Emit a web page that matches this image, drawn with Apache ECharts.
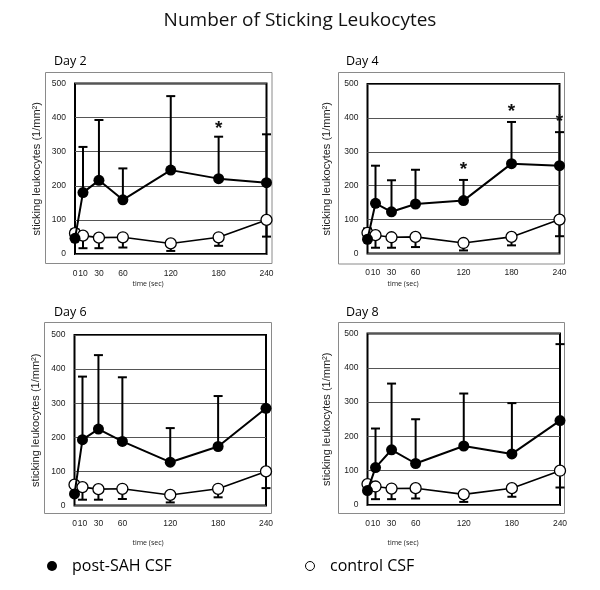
<!DOCTYPE html>
<html>
<head>
<meta charset="utf-8">
<script src="https://cdn.jsdelivr.net/npm/echarts@6/dist/echarts.min.js"></script>
<style>html,body{margin:0;padding:0;background:#fff}#c{width:600px;height:590px}</style>
</head>
<body>
<div id="c"></div>
<script>
// ---- data ----
const times = [0, 10, 30, 60, 120, 180, 240];
const xTickLabels = [0, 10, 30, 60, 120, 180, 240];
const yTicks = [0, 100, 200, 300, 400, 500];
const controlMean = [61, 54, 48, 49, 31, 49, 100];
const controlLower = [null, 17, 17, 19, 9, 24, 51];
const day2Post = [46, 180, 216, 159, 246, 221, 209];
const day2Upper = [72, 314, 393, 251, 463, 344, 351];
const day2Stars = [[180, 383]];
const day4Post = [42, 148, 123, 146, 156, 265, 259];
const day4Upper = [74, 259, 216, 247, 217, 388, 358];
const day4Stars = [[120, 262], [180, 433], [240, 404]];
const day6Post = [34, 193, 224, 188, 127, 173, 285];
const day6Upper = [null, 378, 441, 376, 227, 321, 515];
const day6Stars = [];
const day8Post = [42, 109, 161, 121, 172, 149, 246];
const day8Upper = [null, 223, 354, 250, 325, 297, 469];
const day8Stars = [];
const dayNames = ['Day 2', 'Day 4', 'Day 6', 'Day 8'];
const postName = 'post-SAH CSF';
const controlName = 'control CSF';

// ---- layout ----
const grids = [
  {left: 75, top: 83.5, width: 191.5, height: 170.5},
  {left: 367.5, top: 84, width: 192, height: 169.5},
  {left: 74.5, top: 335, width: 191.5, height: 170.5},
  {left: 367.5, top: 333.5, width: 192.5, height: 171.5}
];
const boxes = [
  {x: 45.5, y: 72.5, w: 226.5, h: 191},
  {x: 338.5, y: 72.5, w: 226, h: 191.5},
  {x: 44.5, y: 322.5, w: 227, h: 191},
  {x: 338.5, y: 322.5, w: 226, h: 191}
];
const dayLabelPos = [[54, 61], [346, 61], [54, 312], [346, 312]];
const timeLabelPos = [[148, 284], [403, 284], [148, 543], [403, 543]];
const posts = [day2Post, day4Post, day6Post, day8Post];
const uppers = [day2Upper, day4Upper, day6Upper, day8Upper];
const stars = [day2Stars, day4Stars, day6Stars, day8Stars];

const zip = (a) => a.map((v, i) => [times[i], v]);
function errData(mean, bound) {
  const out = [];
  times.forEach((t, i) => { if (bound[i] != null) out.push([t, mean[i], bound[i]]); });
  return out;
}
function errRender(params, api) {
  const x = api.value(0), v = api.value(1), e = api.value(2);
  const p0 = api.coord([x, v]);
  const p1 = api.coord([x, e]);
  const cs = params.coordSys;
  let y1 = p1[1], cap = true;
  if (y1 < cs.y) { y1 = cs.y; cap = false; }
  const st = {stroke: '#000', lineWidth: 2};
  const children = [{type: 'line', shape: {x1: p0[0], y1: p0[1], x2: p0[0], y2: y1}, style: st}];
  if (cap) children.push({type: 'line', shape: {x1: p0[0] - 4.5, y1: y1, x2: p0[0] + 4.5, y2: y1}, style: st});
  return {type: 'group', children};
}
function starRender(params, api) {
  const p = api.coord([api.value(0), api.value(1)]);
  return {type: 'text', x: p[0], y: p[1] + 5,
    style: {text: '*', fill: '#111', font: 'bold 19px "Liberation Sans"', align: 'center', verticalAlign: 'middle'}};
}

const option = {
  animation: false,
  backgroundColor: '#fff',
  title: {text: 'Number of Sticking Leukocytes', left: 'center', top: 6,
    textStyle: {fontFamily: 'Open Sans', fontSize: 19, fontWeight: 'normal', color: '#111'}},
  legend: [
    {left: 47, top: 558, padding: 0, itemWidth: 30, itemHeight: 10, selectedMode: false,
      data: [{name: postName, icon: 'circle', itemStyle: {color: '#000', borderWidth: 0}}],
      textStyle: {fontFamily: 'Open Sans', fontSize: 16, color: '#000'}},
    {left: 305, top: 558, padding: 0, itemWidth: 30, itemHeight: 9, selectedMode: false,
      data: [{name: controlName, icon: 'circle', itemStyle: {color: '#fff', borderColor: '#000', borderWidth: 1}}],
      textStyle: {fontFamily: 'Open Sans', fontSize: 16, color: '#000'}}
  ],
  grid: grids.map(g => Object.assign({show: true, borderColor: '#000', borderWidth: 2, backgroundColor: 'transparent'}, g)),
  xAxis: grids.map((g, i) => ({
    type: 'value', gridIndex: i, min: 0, max: 240,
    axisLine: {show: false}, axisTick: {show: false}, splitLine: {show: false},
    axisLabel: {customValues: xTickLabels, margin: i < 2 ? 15 : 14, fontFamily: 'Liberation Sans', fontSize: 8.5, color: '#222'}
  })),
  yAxis: grids.map((g, i) => ({
    type: 'value', gridIndex: i, min: 0, max: 500, interval: 100,
    name: 'sticking leukocytes (1/mm²)', nameLocation: 'middle', nameGap: i % 2 ? 35 : 33,
    nameTextStyle: {fontFamily: 'Liberation Sans', fontSize: 11, color: '#222'},
    axisLine: {show: false}, axisTick: {show: false},
    splitLine: {show: true, lineStyle: {color: '#555', width: 1}},
    axisLabel: {margin: 9, fontFamily: 'Liberation Sans', fontSize: 8.5, color: '#222',
      customValues: yTicks}
  })),
  graphic: [].concat(
    boxes.map(b => ({type: 'rect', shape: {x: b.x, y: b.y, width: b.w, height: b.h}, z: -10, silent: true,
      style: {fill: 'none', stroke: '#8a8a8a', lineWidth: 1}})),
    dayNames.map((d, i) => ({type: 'text', x: dayLabelPos[i][0], y: dayLabelPos[i][1],
      style: {text: d, font: '12.5px "Open Sans"', fill: '#000', verticalAlign: 'middle'}})),
    timeLabelPos.map(p => ({type: 'text', x: p[0], y: p[1],
      style: {text: 'time (sec)', font: '7px "Open Sans"', fill: '#222', align: 'center', verticalAlign: 'middle'}}))
  ),
  series: []
};

for (let i = 0; i < 4; i++) {
  option.series.push(
    {type: 'custom', name: 'postErr' + i, xAxisIndex: i, yAxisIndex: i, z: 2, renderItem: errRender,
      data: errData(posts[i], uppers[i])},
    {type: 'custom', name: 'ctrlErr' + i, xAxisIndex: i, yAxisIndex: i, z: 2, renderItem: errRender,
      data: errData(controlMean, controlLower)},
    {type: 'line', name: controlName, xAxisIndex: i, yAxisIndex: i, z: 3, data: zip(controlMean),
      symbol: 'circle', symbolSize: 11, showSymbol: true,
      lineStyle: {color: '#000', width: 1.6},
      itemStyle: {color: '#fff', borderColor: '#000', borderWidth: 1.3}},
    {type: 'line', name: postName, xAxisIndex: i, yAxisIndex: i, z: 4, data: zip(posts[i]),
      symbol: 'circle', symbolSize: 11, showSymbol: true,
      lineStyle: {color: '#000', width: 2},
      itemStyle: {color: '#000', borderColor: '#000', borderWidth: 0}},
    {type: 'custom', name: 'stars' + i, xAxisIndex: i, yAxisIndex: i, z: 5, renderItem: starRender,
      data: stars[i]}
  );
}

const chart = echarts.init(document.getElementById('c'), null, {renderer: 'canvas'});
chart.setOption(option);
</script>
</body>
</html>
